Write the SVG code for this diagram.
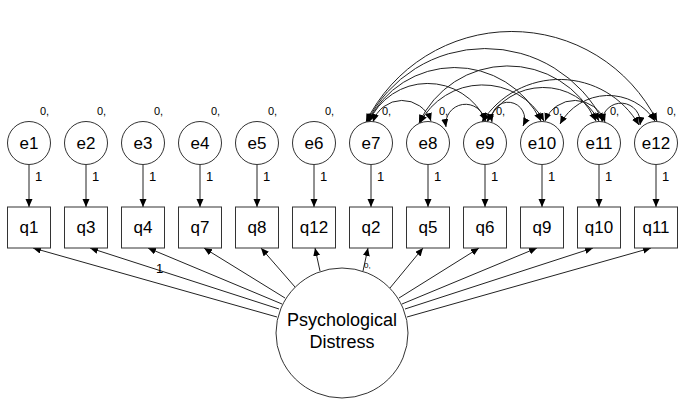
<svg xmlns="http://www.w3.org/2000/svg" width="685" height="405" viewBox="0 0 685 405">
<style>
.nd{fill:#fff;stroke:#333;stroke-width:1}
.t{font-family:"Liberation Sans",Arial,sans-serif;font-size:17px;text-anchor:middle;fill:#000}
.big{font-size:18px}
.s{font-family:"Liberation Sans",Arial,sans-serif;font-size:11px;fill:#000}
.one{font-family:"Liberation Sans",Arial,sans-serif;font-size:13px;fill:#000}
.ln{stroke:#222;stroke-width:1;fill:none;marker-end:url(#ah)}
.cv{stroke:#222;stroke-width:1;fill:none;marker-start:url(#ah2);marker-end:url(#ah2)}
</style>
<defs>
<marker id="ah" markerUnits="userSpaceOnUse" markerWidth="9" markerHeight="8" refX="8" refY="3.5" orient="auto"><path d="M0,0 L8,3.5 L0,7 z" fill="#000"/></marker>
<marker id="ah2" markerUnits="userSpaceOnUse" markerWidth="9" markerHeight="8" refX="8" refY="3.5" orient="auto-start-reverse"><path d="M0,0 L8,3.5 L0,7 z" fill="#000"/></marker>
</defs>
<rect width="685" height="405" fill="#fff"/>
<g id="connectors">
<line class="ln" x1="29" y1="165" x2="29" y2="207"/>
<line class="ln" x1="86" y1="165" x2="86" y2="207"/>
<line class="ln" x1="143" y1="165" x2="143" y2="207"/>
<line class="ln" x1="200" y1="165" x2="200" y2="207"/>
<line class="ln" x1="257" y1="165" x2="257" y2="207"/>
<line class="ln" x1="314" y1="165" x2="314" y2="207"/>
<line class="ln" x1="371" y1="165" x2="371" y2="207"/>
<line class="ln" x1="428" y1="165" x2="428" y2="207"/>
<line class="ln" x1="485" y1="165" x2="485" y2="207"/>
<line class="ln" x1="542" y1="165" x2="542" y2="207"/>
<line class="ln" x1="599" y1="165" x2="599" y2="207"/>
<line class="ln" x1="656" y1="165" x2="656" y2="207"/>
<line class="ln" x1="277" y1="317" x2="33" y2="248"/>
<line class="ln" x1="279" y1="309" x2="90" y2="248"/>
<line class="ln" x1="282" y1="304" x2="148" y2="248"/>
<line class="ln" x1="285" y1="298" x2="204" y2="248"/>
<line class="ln" x1="295" y1="287" x2="261" y2="248"/>
<line class="ln" x1="320" y1="271" x2="315" y2="248"/>
<line class="ln" x1="363" y1="271" x2="368" y2="248"/>
<line class="ln" x1="390" y1="288" x2="423" y2="248"/>
<line class="ln" x1="399" y1="298" x2="479" y2="248"/>
<line class="ln" x1="402" y1="304" x2="537" y2="248"/>
<line class="ln" x1="405" y1="309" x2="593" y2="248"/>
<line class="ln" x1="407" y1="317" x2="651" y2="248"/>
<path class="cv" d="M366,122 A162.6,162.6 0 0 1 657,121"/>
<path class="cv" d="M367,122 A131.9,131.9 0 0 1 603,121"/>
<path class="cv" d="M368,122 A96.3,96.3 0 0 1 541,121"/>
<path class="cv" d="M369,122 A64,64 0 0 1 486,121"/>
<path class="cv" d="M373,122 A30.5,30.5 0 0 1 431,121"/>
<path class="cv" d="M419,123 A97.9,97.9 0 0 1 596,121"/>
<path class="cv" d="M420,123 A70.4,70.4 0 0 1 544,121"/>
<path class="cv" d="M446,127 A19.6,19.6 0 1 1 485,121"/>
<path class="cv" d="M482,122 A92,92 0 0 1 639,125"/>
<path class="cv" d="M487,122 A63.1,63.1 0 0 1 599,121"/>
<path class="cv" d="M492,122 A16.5,16.5 0 1 1 523,126"/>
<path class="cv" d="M560,124 A55.3,55.3 0 0 1 655,121"/>
<path class="cv" d="M545,121 A31.9,31.9 0 0 1 605,122"/>
<path class="cv" d="M602,122 A19.1,19.1 0 1 1 640,125"/>
</g>
<g id="labels">
<text class="s" x="40" y="115">0,</text>
<text class="s" x="97" y="115">0,</text>
<text class="s" x="154" y="115">0,</text>
<text class="s" x="211" y="115">0,</text>
<text class="s" x="268" y="115">0,</text>
<text class="s" x="325" y="115">0,</text>
<text class="s" x="382" y="115">0,</text>
<text class="s" x="439" y="115">0,</text>
<text class="s" x="496" y="115">0,</text>
<text class="s" x="553" y="115">0,</text>
<text class="s" x="610" y="115">0,</text>
<text class="s" x="667" y="115">0,</text>
<text class="one" x="35" y="181">1</text>
<text class="one" x="92" y="181">1</text>
<text class="one" x="149" y="181">1</text>
<text class="one" x="206" y="181">1</text>
<text class="one" x="263" y="181">1</text>
<text class="one" x="320" y="181">1</text>
<text class="one" x="377" y="181">1</text>
<text class="one" x="434" y="181">1</text>
<text class="one" x="491" y="181">1</text>
<text class="one" x="548" y="181">1</text>
<text class="one" x="605" y="181">1</text>
<text class="one" x="662" y="181">1</text>
<text class="one" x="156" y="273">1</text>
<text class="s" x="364" y="268" style="font-size:8px">0,</text>
</g>
<g id="e1"><circle class="nd" cx="29" cy="143" r="21.5"/><text class="t" x="29" y="149">e1</text></g>
<g id="e2"><circle class="nd" cx="86" cy="143" r="21.5"/><text class="t" x="86" y="149">e2</text></g>
<g id="e3"><circle class="nd" cx="143" cy="143" r="21.5"/><text class="t" x="143" y="149">e3</text></g>
<g id="e4"><circle class="nd" cx="200" cy="143" r="21.5"/><text class="t" x="200" y="149">e4</text></g>
<g id="e5"><circle class="nd" cx="257" cy="143" r="21.5"/><text class="t" x="257" y="149">e5</text></g>
<g id="e6"><circle class="nd" cx="314" cy="143" r="21.5"/><text class="t" x="314" y="149">e6</text></g>
<g id="e7"><circle class="nd" cx="371" cy="143" r="21.5"/><text class="t" x="371" y="149">e7</text></g>
<g id="e8"><circle class="nd" cx="428" cy="143" r="21.5"/><text class="t" x="428" y="149">e8</text></g>
<g id="e9"><circle class="nd" cx="485" cy="143" r="21.5"/><text class="t" x="485" y="149">e9</text></g>
<g id="e10"><circle class="nd" cx="542" cy="143" r="21.5"/><text class="t" x="542" y="149">e10</text></g>
<g id="e11"><circle class="nd" cx="599" cy="143" r="21.5"/><text class="t" x="599" y="149">e11</text></g>
<g id="e12"><circle class="nd" cx="656" cy="143" r="21.5"/><text class="t" x="656" y="149">e12</text></g>
<g id="q1"><rect class="nd" x="7.5" y="207" width="43" height="41"/><text class="t" x="29" y="233">q1</text></g>
<g id="q3"><rect class="nd" x="64.5" y="207" width="43" height="41"/><text class="t" x="86" y="233">q3</text></g>
<g id="q4"><rect class="nd" x="121.5" y="207" width="43" height="41"/><text class="t" x="143" y="233">q4</text></g>
<g id="q7"><rect class="nd" x="178.5" y="207" width="43" height="41"/><text class="t" x="200" y="233">q7</text></g>
<g id="q8"><rect class="nd" x="235.5" y="207" width="43" height="41"/><text class="t" x="257" y="233">q8</text></g>
<g id="q12"><rect class="nd" x="292.5" y="207" width="43" height="41"/><text class="t" x="314" y="233">q12</text></g>
<g id="q2"><rect class="nd" x="349.5" y="207" width="43" height="41"/><text class="t" x="371" y="233">q2</text></g>
<g id="q5"><rect class="nd" x="406.5" y="207" width="43" height="41"/><text class="t" x="428" y="233">q5</text></g>
<g id="q6"><rect class="nd" x="463.5" y="207" width="43" height="41"/><text class="t" x="485" y="233">q6</text></g>
<g id="q9"><rect class="nd" x="520.5" y="207" width="43" height="41"/><text class="t" x="542" y="233">q9</text></g>
<g id="q10"><rect class="nd" x="577.5" y="207" width="43" height="41"/><text class="t" x="599" y="233">q10</text></g>
<g id="q11"><rect class="nd" x="634.5" y="207" width="43" height="41"/><text class="t" x="656" y="233">q11</text></g>
<g id="distress"><ellipse class="nd" cx="342" cy="333" rx="66" ry="65"/><text class="t big" x="342" y="326">Psychological</text><text class="t big" x="342" y="348">Distress</text></g>
</svg>
